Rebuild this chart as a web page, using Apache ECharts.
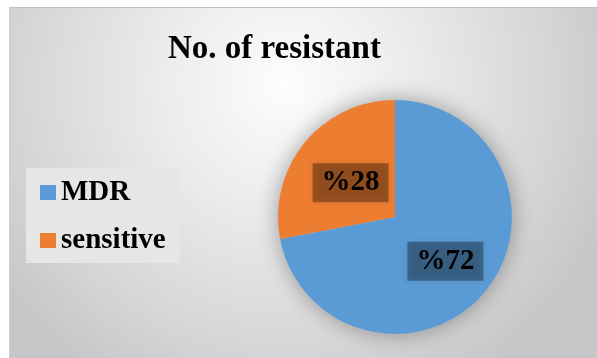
<!DOCTYPE html>
<html>
<head>
<meta charset="utf-8">
<script src="https://cdn.jsdelivr.net/npm/echarts@6/dist/echarts.min.js"></script>
<style>
  html, body { margin: 0; padding: 0; background: #ffffff; }
  #chart {
    position: absolute; left: 9px; top: 7px;
    width: 588px; height: 351px;
    box-sizing: border-box;
    border-top: 1px solid #c2c2c2; border-left: 1px solid #cfcfcf;
  }
</style>
</head>
<body>
<div id="chart"></div>
<script>
// Share of resistant isolates
const categories = ['MDR', 'sensitive'];
const percents = [72, 28];
const labelTexts = ['%72', '%28'];
const colors = ['#5B9BD5', '#ED7D31'];

const serif = '"Liberation Serif", "Times New Roman", serif';
const total = percents.reduce((a, b) => a + b, 0);

const chart = echarts.init(document.getElementById('chart'), null, { renderer: 'canvas' });

chart.setOption({
  animation: false,
  backgroundColor: {
    type: 'radial', x: 0.47, y: 0.22, r: 1.0,
    colorStops: [
      { offset: 0, color: '#fdfdfd' },
      { offset: 0.35, color: '#ececec' },
      { offset: 0.75, color: '#d6d6d6' },
      { offset: 1, color: '#c6c6c6' }
    ]
  },
  title: {
    text: 'No. of resistant',
    left: 153, top: 20,
    textStyle: { fontFamily: serif, fontWeight: 'bold', fontSize: 33, color: '#000000' }
  },
  legend: {
    data: categories,
    orient: 'vertical',
    left: 16, top: 160,
    icon: 'rect',
    itemWidth: 16, itemHeight: 15,
    itemGap: 19,
    padding: [10, 14, 8, 14],
    backgroundColor: '#e6e6e6',
    textStyle: { fontFamily: serif, fontWeight: 'bold', fontSize: 29, color: '#000000' }
  },
  series: [
    {
      // soft drop shadow behind the whole pie
      type: 'pie', silent: true, z: 1,
      center: [385, 209], radius: 117,
      label: { show: false }, labelLine: { show: false },
      itemStyle: { color: '#c8c8c8', shadowBlur: 22, shadowColor: 'rgba(0,0,0,0.35)' },
      data: [{ name: '', value: total }],
      tooltip: { show: false }
    },
    {
      type: 'pie', z: 2,
      center: [385, 209], radius: 117,
      startAngle: 90, clockwise: true,
      label: {
        show: true, position: 'inside',
        offset: [3, 5],
        fontFamily: serif, fontWeight: 'bold', fontSize: 29, color: '#000000',
        backgroundColor: 'rgba(0,0,0,0.32)',
        padding: [6, 9, 4, 9],
        shadowBlur: 7, shadowColor: 'rgba(0,0,0,0.32)',
        formatter: p => labelTexts[p.dataIndex]
      },
      labelLine: { show: false },
      data: categories.map((name, i) => ({
        name, value: percents[i], itemStyle: { color: colors[i] }
      }))
    }
  ]
});
</script>
</body>
</html>
